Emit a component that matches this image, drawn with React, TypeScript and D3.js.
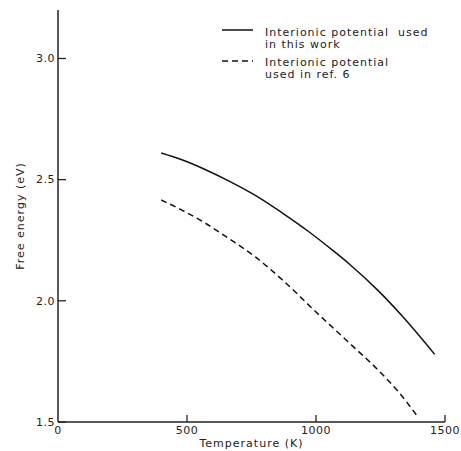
import React from "react";
import * as d3 from "d3";

const solidT = [400, 475, 570, 665, 765, 870, 975, 1065, 1130, 1240, 1335, 1460];
const solidE = [2.61, 2.584, 2.542, 2.493, 2.435, 2.362, 2.283, 2.208, 2.151, 2.043, 1.936, 1.779];
const dashedT = [400, 475, 570, 665, 765, 870, 1000, 1120, 1240, 1320, 1395];
const dashedE = [2.416, 2.377, 2.321, 2.255, 2.181, 2.086, 1.954, 1.835, 1.715, 1.624, 1.521];
const xTicks = [0, 500, 1000, 1500];
const xTickLabels = ["0", "500", "1000", "1500"];
const yTicks = [1.5, 2.0, 2.5, 3.0];
const yTickLabels = ["1.5", "2.0", "2.5", "3.0"];
const legendLabels = [
  ["Interionic potential  used", "in this work"],
  ["Interionic potential", "used in ref. 6"],
];

const W = 461;
const H = 451;
const font = "DejaVu Sans";

export default function App() {
  const x = d3.scaleLinear().domain([0, 1500]).range([58, 445]);
  const y = d3.scaleLinear().domain([1.5, 3.2]).range([422, 10]);
  const line = d3
    .line<[number, number]>()
    .x((d) => x(d[0]))
    .y((d) => y(d[1]))
    .curve(d3.curveMonotoneX);
  const solid = solidT.map((t, i) => [t, solidE[i]] as [number, number]);
  const dashed = dashedT.map((t, i) => [t, dashedE[i]] as [number, number]);

  return (
    <svg
      width={W}
      height={H}
      style={{ position: "absolute", left: 0, top: 0, background: "#fff" }}
      fontFamily={font}
    >
      <rect width={W} height={H} fill="#fff" />
      <line x1={x(0)} x2={x(0)} y1={y(3.2)} y2={y(1.5)} stroke="#222" strokeWidth={1.5} />
      <line x1={x(0)} x2={x(1500)} y1={y(1.5)} y2={y(1.5)} stroke="#222" strokeWidth={1.5} />
      {yTicks.map((v, i) => (
        <g key={"y" + i}>
          <line x1={x(0)} x2={x(0) + 8} y1={y(v)} y2={y(v)} stroke="#222" strokeWidth={1.3} />
          <text
            x={x(0) - 3}
            y={y(v)}
            dy="0.35em"
            textAnchor="end"
            fontSize={11}
            letterSpacing={0.5}
            fill="#222"
          >
            {yTickLabels[i]}
          </text>
        </g>
      ))}
      {xTicks.map((v, i) => (
        <g key={"x" + i}>
          {v > 0 && (
            <line x1={x(v)} x2={x(v)} y1={y(1.5)} y2={y(1.5) - 7} stroke="#222" strokeWidth={1.3} />
          )}
          <text
            x={x(v)}
            y={434}
            textAnchor="middle"
            fontSize={11}
            letterSpacing={0.5}
            fill="#222"
          >
            {xTickLabels[i]}
          </text>
        </g>
      ))}
      <text
        x={(x(0) + x(1500)) / 2}
        y={447}
        textAnchor="middle"
        fontSize={11}
        letterSpacing={1}
        fill="#222"
      >
        Temperature (K)
      </text>
      <text
        transform={`translate(24, ${(y(3.2) + y(1.5)) / 2}) rotate(-90)`}
        textAnchor="middle"
        fontSize={11}
        letterSpacing={1}
        fill="#222"
      >
        Free energy (eV)
      </text>
      <path d={line(solid) || ""} fill="none" stroke="#111" strokeWidth={1.5} />
      <path
        d={line(dashed) || ""}
        fill="none"
        stroke="#111"
        strokeWidth={1.5}
        strokeDasharray="6,4"
      />
      <line x1={222} x2={253} y1={30} y2={30} stroke="#111" strokeWidth={1.5} />
      <line x1={222} x2={253} y1={61} y2={61} stroke="#111" strokeWidth={1.5} strokeDasharray="6,4" />
      {legendLabels.map((lines, i) =>
        lines.map((s, j) => (
          <text
            key={i + "-" + j}
            x={265}
            y={36 + i * 30 + j * 12}
            fontSize={11}
            letterSpacing={1}
            fill="#222"
            style={{ whiteSpace: "pre" }}
          >
            {s}
          </text>
        ))
      )}
    </svg>
  );
}
